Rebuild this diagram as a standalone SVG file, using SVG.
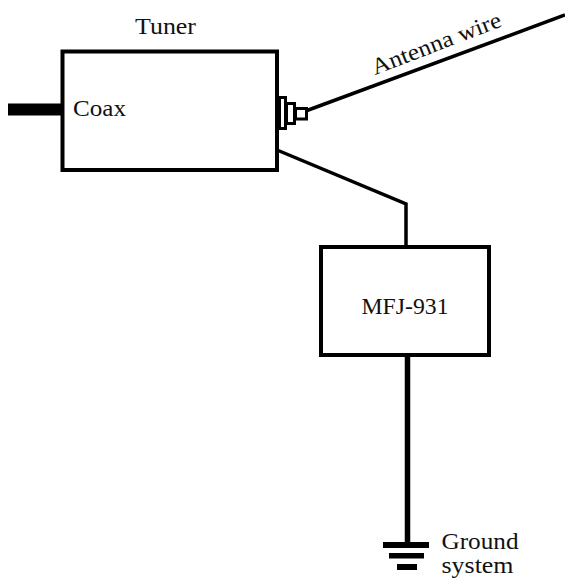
<svg xmlns="http://www.w3.org/2000/svg" width="565" height="578" viewBox="0 0 565 578">
<style>
.box{fill:#fff;stroke:#000;stroke-width:4}
.small{fill:#fff;stroke:#000;stroke-width:3}
.wire{fill:none;stroke:#000;stroke-linejoin:miter}
.bar{fill:#000;stroke:none}
text{font-family:"Liberation Serif","Times New Roman",serif;font-size:23px;fill:#111}
</style>
<rect width="565" height="578" fill="#fff"/>
<g id="connectors">
<rect class="bar" x="8" y="103.500" width="54" height="12"/>
<path class="wire" stroke-width="3.500" d="M307 110.500L565 15"/>
<path class="wire" stroke-width="3.500" d="M277 150L406 204V247"/>
<path class="wire" stroke-width="5.500" d="M407.500 356V545"/>
</g>
<g id="tuner">
<rect class="box" x="62.500" y="51.500" width="214.500" height="118.500"/>
<text x="135" y="34" textLength="61" lengthAdjust="spacingAndGlyphs">Tuner</text>
<text x="73" y="116" textLength="53" lengthAdjust="spacingAndGlyphs">Coax</text>
</g>
<g id="antenna-connector">
<rect class="small" x="279.500" y="97.500" width="6" height="31"/>
<rect class="small" x="286.500" y="103.500" width="8" height="20"/>
<rect class="small" x="295.500" y="108.500" width="11" height="10.500"/>
</g>
<g id="antenna-label">
<text transform="translate(375 75) rotate(-21)" textLength="137" lengthAdjust="spacingAndGlyphs">Antenna wire</text>
</g>
<g id="mfj-931">
<rect class="box" x="321" y="247" width="168" height="108"/>
<text x="361.500" y="314" textLength="87" lengthAdjust="spacingAndGlyphs">MFJ-931</text>
</g>
<g id="ground">
<rect class="bar" x="383" y="542" width="46" height="6"/>
<rect class="bar" x="389" y="553" width="35" height="5.500"/>
<rect class="bar" x="397" y="564" width="20" height="6"/>
<text x="441.500" y="549" textLength="77" lengthAdjust="spacingAndGlyphs">Ground</text>
<text x="441.500" y="573" textLength="72" lengthAdjust="spacingAndGlyphs">system</text>
</g>
</svg>
